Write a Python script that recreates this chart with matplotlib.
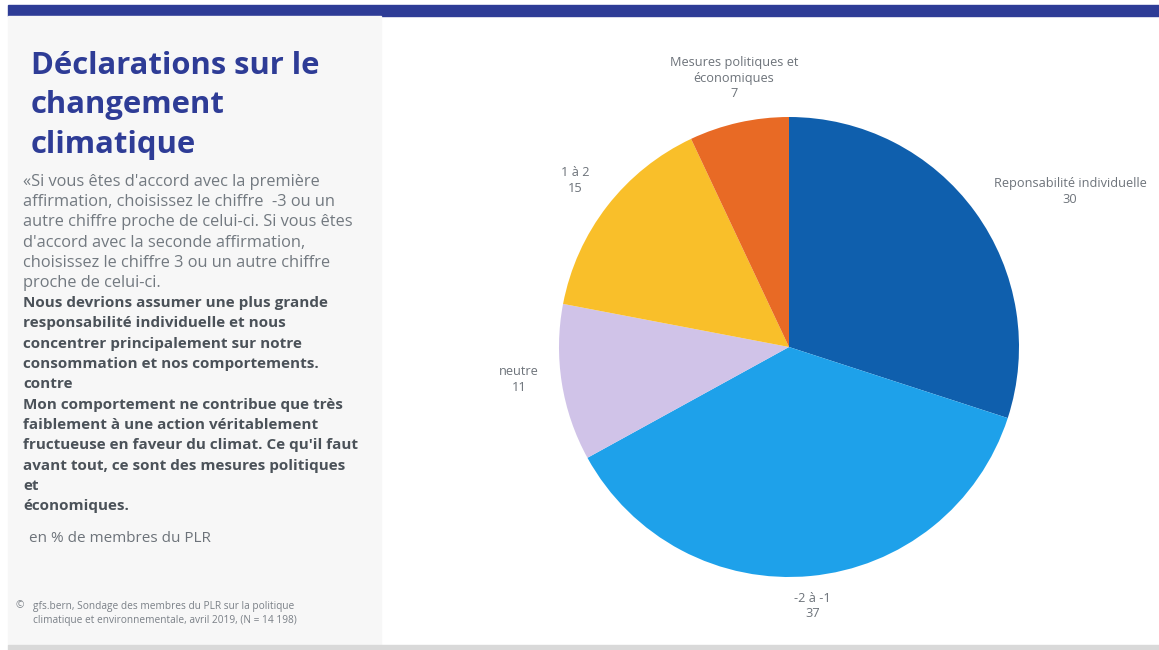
import matplotlib
matplotlib.use("Agg")
import matplotlib.pyplot as plt
from matplotlib.patches import Rectangle

# ── Data ─────────────────────────────────────────────────────────────────────
categories = ["Reponsabilité individuelle", "-2 à -1", "neutre", "1 à 2",
              "Mesures politiques et\néconomiques"]
shares = [30, 37, 11, 15, 7]
colors = ["#0f5fad", "#1ea1ea", "#d0c3e8", "#f9bf2a", "#e86a25"]

title = "Déclarations sur le\nchangement\nclimatique"
intro_lines = [
    "«Si vous êtes d'accord avec la première",
    "affirmation, choisissez le chiffre  -3 ou un",
    "autre chiffre proche de celui-ci. Si vous êtes",
    "d'accord avec la seconde affirmation,",
    "choisissez le chiffre 3 ou un autre chiffre",
    "proche de celui-ci.",
]
statement_lines = [
    "Nous devrions assumer une plus grande",
    "responsabilité individuelle et nous",
    "concentrer principalement sur notre",
    "consommation et nos comportements.",
    "contre",
    "Mon comportement ne contribue que très",
    "faiblement à une action véritablement",
    "fructueuse en faveur du climat. Ce qu'il faut",
    "avant tout, ce sont des mesures politiques",
    "et",
    "économiques.",
]
unit_note = "en % de membres du PLR"
source_lines = [
    "gfs.bern, Sondage des membres du PLR sur la politique",
    "climatique et environnementale, avril 2019, (N = 14 198)",
]

W, H = 1159, 650
plt.rcParams["font.family"] = ["Open Sans", "DejaVu Sans"]
fig = plt.figure(figsize=(W / 100, H / 100), dpi=100)
fig.patch.set_facecolor("white")


def px(x, y):
    """pixel coords (top-left origin) -> figure fraction"""
    return x / W, 1 - y / H


# frame: top band, left panel, bottom strip
fig.patches.append(Rectangle(px(8, 15.5), (W - 8) / W, 10.5 / H,
                             transform=fig.transFigure, color="#2e3c96", zorder=0))
fig.patches.append(Rectangle(px(8, 645), 373 / W, 629.5 / H,
                             transform=fig.transFigure, color="#f7f7f7", zorder=0))
fig.patches.append(Rectangle(px(8, 650), (W - 8) / W, 5 / H,
                             transform=fig.transFigure, color="#d9d9d9", zorder=0))

# left column text
title_y = 62
for line in title.split("\n"):
    fig.text(*px(31, title_y), line, color="#2e3c96", fontsize=22.3, fontweight="bold",
             va="center_baseline", ha="left")
    title_y += 40

y = 182
for line in intro_lines:
    fig.text(*px(23, y), line, color="#727980", fontsize=11.8, va="center", ha="left")
    y += 20.2
for line in statement_lines:
    fig.text(*px(23, y), line, color="#4b5259", fontsize=11.0, fontweight="bold",
             va="center", ha="left")
    y += 20.3

fig.text(*px(29, 538), unit_note, color="#6d737a", fontsize=11, va="center", ha="left")
fig.text(*px(16, 606), "©", color="#7a8087", fontsize=7.2, va="center", ha="left")
for i, line in enumerate(source_lines):
    fig.text(*px(33, 606 + 14 * i), line, color="#7a8087", fontsize=7.3,
             va="center", ha="left")

# pie, starting at 12 o'clock and running clockwise
cx, cy, r = 789, 347, 230
ax = fig.add_axes([(cx - r) / W, (H - cy - r) / H, 2 * r / W, 2 * r / H])
labels = [f"{c}\n{v}" for c, v in zip(categories, shares)]
wedges, texts = ax.pie(shares, colors=colors, startangle=90, counterclock=False,
                       labels=labels, labeldistance=1.1,
                       textprops=dict(color="#6d737a", fontsize=9.2,
                                      multialignment="center", linespacing=1.25),
                       wedgeprops=dict(linewidth=0))
for t in texts:
    t.set_clip_on(False)
# side labels sit a little above their anchor points
for i in (0, 2, 3):
    x0, y0 = texts[i].get_position()
    texts[i].set_position((x0, y0 + 0.03 + (0.02 if i == 3 else 0)))
# top and bottom labels are centred on their wedge direction
texts[-1].set_ha("center")
texts[-1].set_va("bottom")
texts[1].set_ha("center")
texts[1].set_va("top")
x1, y1 = texts[1].get_position()
texts[1].set_position((x1, y1 + 0.03))
ax.set_xlim(-1, 1)
ax.set_ylim(-1, 1)
ax.set_aspect("equal")
ax.axis("off")

fig.savefig("out.png", dpi=100)
